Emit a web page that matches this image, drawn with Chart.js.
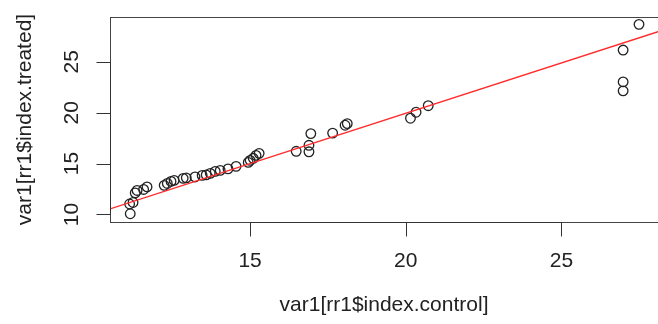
<!DOCTYPE html>
<html>
<head>
<meta charset="utf-8">
<script src="https://cdn.jsdelivr.net/npm/chart.js@4/dist/chart.umd.min.js"></script>
<style>
  html, body { margin: 0; padding: 0; background: #fff; }
</style>
</head>
<body>
<canvas id="plot" width="658" height="324"></canvas>
<script>
// valeurs (control -> treated)
const controlVals = [11.15, 11.13, 11.24, 11.31, 11.37, 11.58, 11.69, 12.24, 12.34, 12.46, 12.56, 12.85, 12.95, 13.23,
  13.46, 13.59, 13.72, 13.88, 14.04, 14.29, 14.55, 14.94, 15.0, 15.1, 15.19, 15.29, 16.48, 16.89, 16.89, 16.95,
  17.65, 18.05, 18.12, 20.15, 20.33, 20.72, 26.98, 26.98, 26.98, 27.49]
const treatedVals = [10.07, 11.03, 11.18, 12.12, 12.36, 12.46, 12.71, 12.86, 13.05, 13.25, 13.35, 13.55, 13.6, 13.69,
  13.84, 13.89, 14.04, 14.24, 14.33, 14.48, 14.73, 15.12, 15.32, 15.52, 15.81, 16.01, 16.21, 16.16, 16.8, 17.95,
  18.0, 18.77, 18.93, 19.46, 20.05, 20.69, 26.16, 23.03, 22.15, 28.69]

const xTicks = [15, 20, 25]
const yTicks = [10, 15, 20, 25]
const xRange = [10.5, 28.1]
const yRange = [9.26, 29.41]

// droite de régression (abline)
const fitIntercept = 0.17
const fitSlope = 0.989

const xTitle = "var1[rr1$index.control]"
const yTitle = "var1[rr1$index.treated]"

const FONT = '21px "Liberation Sans", Arial, sans-serif'
const INK = "#222"

// Axes style R base graphics
const rAxes = {
  id: "rAxes",
  afterDraw(chart) {
    const c = chart.ctx
    const a = chart.chartArea
    const xs = chart.scales.x
    const ys = chart.scales.y
    c.save()
    c.strokeStyle = "#444"
    c.lineWidth = 1
    c.strokeRect(a.left + 0.5, a.top + 0.5, a.right - a.left, a.bottom - a.top)

    c.strokeStyle = "#333"
    c.fillStyle = INK
    c.font = FONT
    c.textAlign = "center"
    c.textBaseline = "middle"

    // axe x
    const bx = Math.round(a.bottom) + 0.5
    c.beginPath()
    c.moveTo(xs.getPixelForValue(xTicks[0]), bx)
    c.lineTo(xs.getPixelForValue(xTicks[xTicks.length - 1]), bx)
    xTicks.forEach((t) => {
      const px = Math.round(xs.getPixelForValue(t)) + 0.5
      c.moveTo(px, bx)
      c.lineTo(px, bx + 14)
    })
    c.stroke()
    xTicks.forEach((t) => c.fillText(String(t), xs.getPixelForValue(t), 261))

    // axe y
    const lx = Math.round(a.left) + 0.5
    c.beginPath()
    c.moveTo(lx, ys.getPixelForValue(yTicks[0]))
    c.lineTo(lx, ys.getPixelForValue(yTicks[yTicks.length - 1]))
    yTicks.forEach((t) => {
      const py = Math.round(ys.getPixelForValue(t)) + 0.5
      c.moveTo(lx, py)
      c.lineTo(lx - 14, py)
    })
    c.stroke()
    yTicks.forEach((t) => {
      c.save()
      c.translate(72, ys.getPixelForValue(t))
      c.rotate(-Math.PI / 2)
      c.fillText(String(t), 0, 0)
      c.restore()
    })

    // titres
    c.fillText(xTitle, (a.left + 658) / 2, 305)
    c.save()
    c.translate(25, (a.top + a.bottom) / 2)
    c.rotate(-Math.PI / 2)
    c.fillText(yTitle, 0, 0)
    c.restore()
    c.restore()
  },
}

const points = controlVals.map((x, i) => ({ x: x, y: treatedVals[i] }))
const fitLine = xRange.map((x) => ({ x: x, y: fitIntercept + fitSlope * x }))

new Chart(document.getElementById("plot"), {
  type: "scatter",
  data: {
    datasets: [
      {
        data: fitLine,
        showLine: true,
        borderColor: "#ff2a2a",
        borderWidth: 1.3,
        pointRadius: 0,
      },
      {
        data: points,
        pointStyle: "circle",
        pointRadius: 4.8,
        borderWidth: 1.3,
        borderColor: INK,
        backgroundColor: "rgba(0,0,0,0)",
      },
    ],
  },
  options: {
    responsive: false,
    animation: false,
    devicePixelRatio: 1,
    layout: { autoPadding: false, padding: { left: 110, top: 17, right: 0, bottom: 102 } },
    scales: {
      x: { type: "linear", min: xRange[0], max: xRange[1], display: false },
      y: { type: "linear", min: yRange[0], max: yRange[1], display: false },
    },
    plugins: { legend: { display: false }, tooltip: { enabled: false } },
  },
  plugins: [rAxes],
})
</script>
</body>
</html>
